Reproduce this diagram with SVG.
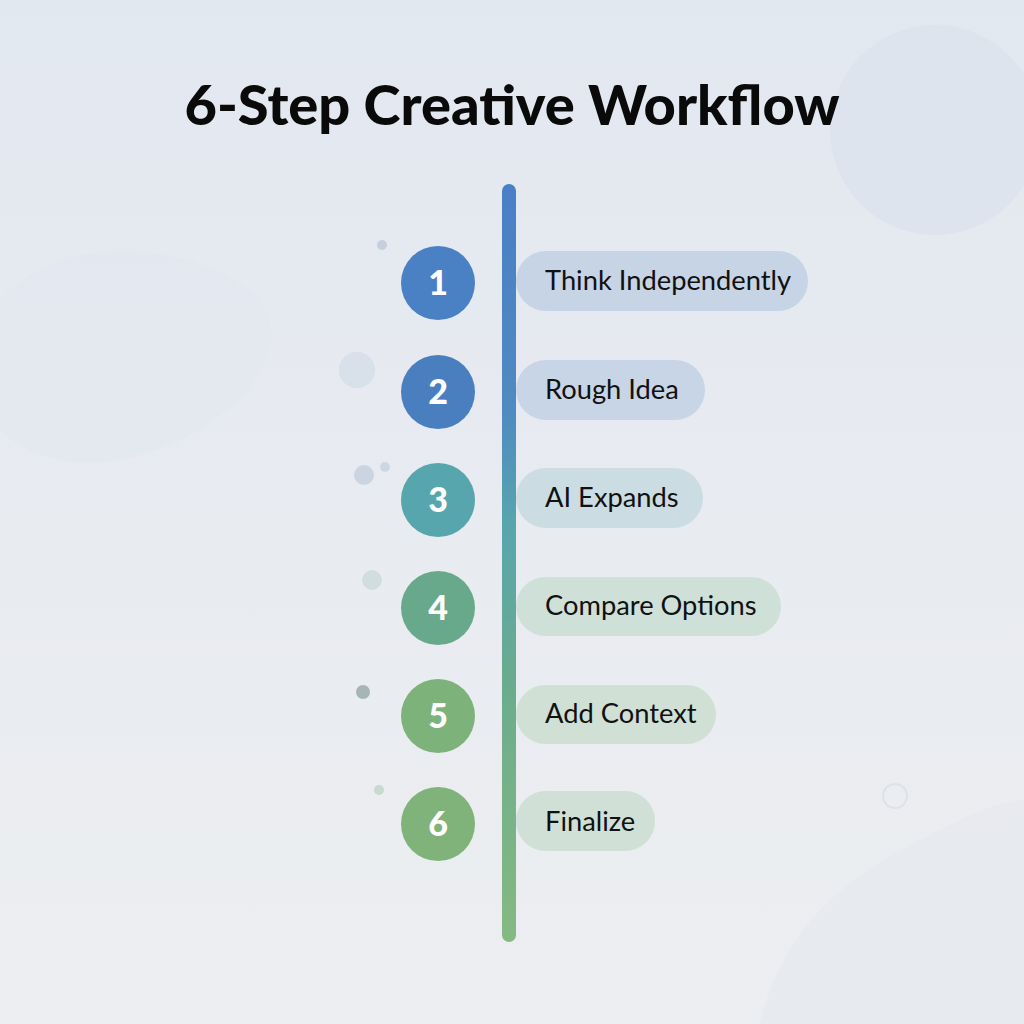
<svg xmlns="http://www.w3.org/2000/svg" width="1024" height="1024" viewBox="0 0 1024 1024">
<defs>
<linearGradient id="bg" x1="0" y1="0" x2="0" y2="1">
<stop offset="0" stop-color="#e2e8f0"/>
<stop offset="0.5" stop-color="#e8ebf0"/>
<stop offset="1" stop-color="#eceef1"/>
</linearGradient>
<linearGradient id="bar" x1="0" y1="184" x2="0" y2="942" gradientUnits="userSpaceOnUse">
<stop offset="0" stop-color="#4a7fc6"/>
<stop offset="0.3" stop-color="#4f8ac0"/>
<stop offset="0.45" stop-color="#58a5ae"/>
<stop offset="0.65" stop-color="#6aab8e"/>
<stop offset="1" stop-color="#86b982"/>
</linearGradient>
<style>
.num{font-family:Lato,"Noto Sans",sans-serif;font-weight:900;font-size:34px;fill:#ffffff;text-anchor:middle}
.lbl{font-family:Lato,"Noto Sans",sans-serif;font-size:27.3px;fill:#111111}
.dot{stroke:none}
</style>
</defs>
<rect width="1024" height="1024" fill="url(#bg)"/>
<g id="decor">
<circle cx="935" cy="130" r="105" fill="#dde4ee"/>
<path d="M0 300 C60 230 200 240 260 300 C300 360 220 440 120 460 C60 470 20 450 0 430 Z" fill="#dfe5ee" opacity="0.35"/>
<path d="M760 1024 C790 900 880 860 960 820 C1000 800 1024 800 1024 800 L1024 1024 Z" fill="#e6e9ee" opacity="0.8"/>
<circle class="dot" cx="382" cy="245" r="5" fill="#c5cfdd"/>
<circle class="dot" cx="357" cy="370" r="18" fill="#d8e0ea"/>
<circle class="dot" cx="364" cy="475" r="10" fill="#cbd5e2"/>
<circle class="dot" cx="385" cy="467" r="5" fill="#cdd7e2"/>
<circle class="dot" cx="372" cy="580" r="10" fill="#d2dde0"/>
<circle class="dot" cx="363" cy="692" r="7" fill="#a7b5b5"/>
<circle class="dot" cx="379" cy="790" r="5" fill="#c8d9d0"/>
<circle cx="895" cy="796" r="12" fill="none" stroke="#dde2e8" stroke-width="2"/>
</g>
<text x="512" y="125" text-anchor="middle" font-family="Lato,'Noto Sans',sans-serif" font-weight="900" font-size="56" fill="#0a0a0a">6-Step Creative Workflow</text>
<g id="connectors">
<rect x="502" y="184" width="14" height="758" rx="7" fill="url(#bar)"/>
</g>
<g id="step1">
<rect x="516" y="251" width="292" height="60" rx="30" fill="#c7d4e6"/>
<circle cx="438" cy="283" r="37" fill="#4a80c4"/>
<text class="num" x="438" y="295">1</text>
<text class="lbl" x="545" y="290">Think Independently</text>
</g>
<g id="step2">
<rect x="516" y="360" width="189" height="60" rx="30" fill="#c8d5e6"/>
<circle cx="438" cy="392" r="37" fill="#4a7fbf"/>
<text class="num" x="438" y="404">2</text>
<text class="lbl" x="545" y="399">Rough Idea</text>
</g>
<g id="step3">
<rect x="516" y="468" width="187" height="60" rx="30" fill="#cbdde2"/>
<circle cx="438" cy="500" r="37" fill="#57a6ad"/>
<text class="num" x="438" y="512">3</text>
<text class="lbl" x="545" y="507">AI Expands</text>
</g>
<g id="step4">
<rect x="516" y="577" width="265" height="59" rx="29.5" fill="#cfe0d8"/>
<circle cx="438" cy="608" r="37" fill="#68a98b"/>
<text class="num" x="438" y="620">4</text>
<text class="lbl" x="545" y="615">Compare Options</text>
</g>
<g id="step5">
<rect x="516" y="685" width="200" height="59" rx="29.5" fill="#d0e0d5"/>
<circle cx="438" cy="716" r="37" fill="#7db37a"/>
<text class="num" x="438" y="728">5</text>
<text class="lbl" x="545" y="723">Add Context</text>
</g>
<g id="step6">
<rect x="516" y="791" width="139" height="60" rx="30" fill="#d0e0d6"/>
<circle cx="438" cy="824" r="37" fill="#7fb37a"/>
<text class="num" x="438" y="836">6</text>
<text class="lbl" x="545" y="831">Finalize</text>
</g>
</svg>
